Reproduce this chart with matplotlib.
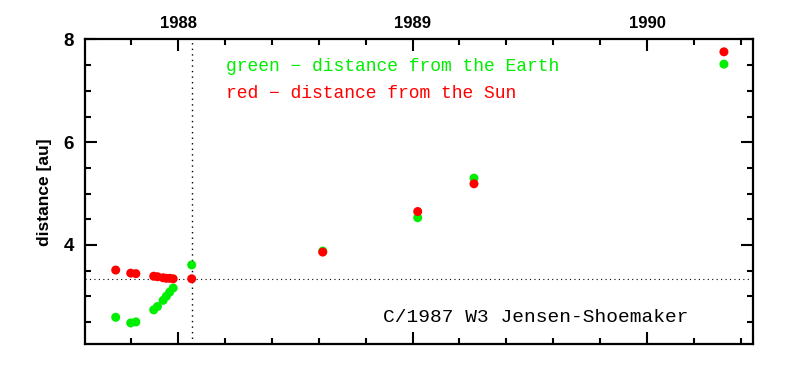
import matplotlib
matplotlib.use("Agg")
import matplotlib.pyplot as plt
from matplotlib.ticker import MultipleLocator

# Data (decimal year, distances in au)
t = [1987.734, 1987.798, 1987.820, 1987.896, 1987.912, 1987.936, 1987.950,
     1987.964, 1987.979, 1988.058, 1988.617, 1989.022, 1989.262, 1990.328]
r_sun = [3.51, 3.45, 3.44, 3.39, 3.38, 3.36, 3.35, 3.35, 3.34, 3.34,
         3.86, 4.65, 5.19, 7.76]
delta_earth = [2.59, 2.48, 2.50, 2.735, 2.80, 2.92, 3.00, 3.08, 3.16, 3.61,
               3.88, 4.53, 5.30, 7.52]
ref_year = 1988.058
ref_dist = 3.34
year_ticks = [1988, 1989, 1990]
year_labels = ["1988", "1989", "1990"]
y_ticks = [4, 6, 8]
y_labels = ["4", "6", "8"]

fig = plt.figure(figsize=(7.93, 3.71), dpi=100)
ax = fig.add_axes([85/793, 27/371, 668/793, 304.5/371])

ax.axvline(ref_year, color="black", ls=(0, (1, 3)), lw=1.0, zorder=1)
ax.axhline(ref_dist, color="black", ls=(0, (1, 3)), lw=0.8, zorder=1)

ax.scatter(t, delta_earth, s=42, color="#00ee00", edgecolors="none", zorder=3)
ax.scatter(t, r_sun, s=42, color="#ff0000", edgecolors="none", zorder=4)

ax.set_xlim(1987.603, 1990.452)
ax.set_ylim(2.07, 8.0)

ax.xaxis.set_minor_locator(MultipleLocator(0.2))
ax.set_xticks(year_ticks)
ax.set_xticklabels(year_labels)
ax.set_yticks(y_ticks)
ax.set_yticklabels(y_labels)
ax.yaxis.set_minor_locator(MultipleLocator(0.5))

ax.tick_params(which="both", direction="in", top=True, right=True,
               labeltop=True, labelbottom=False, width=1.5, colors="black")
ax.tick_params(which="major", length=8.6, pad=6)
ax.tick_params(which="minor", length=4.3)
ax.tick_params(axis="y", which="major", pad=8)
for lab in ax.get_xticklabels():
    lab.set_fontfamily("Liberation Sans")
    lab.set_fontweight("bold")
    lab.set_fontsize(12)
for lab in ax.get_yticklabels():
    lab.set_fontfamily("Liberation Sans")
    lab.set_fontweight("bold")
    lab.set_fontsize(13.5)

for sp in ax.spines.values():
    sp.set_linewidth(1.6)

ax.set_ylabel("distance [au]", fontsize=12.5, fontfamily="Liberation Sans",
              fontweight="bold", labelpad=8)

ax.text(0.211, 0.897, "green \u2212 distance from the Earth", transform=ax.transAxes,
        color="#00ee00", fontsize=13, fontfamily="Liberation Mono",
        ha="left", va="baseline")
ax.text(0.211, 0.808, "red \u2212 distance from the Sun", transform=ax.transAxes,
        color="#ff0000", fontsize=13, fontfamily="Liberation Mono",
        ha="left", va="baseline")
ax.text(0.446, 0.072, "C/1987 W3 Jensen-Shoemaker", transform=ax.transAxes,
        color="black", fontsize=14, fontfamily="Liberation Mono",
        ha="left", va="baseline")

fig.savefig("out.png", dpi=100)
